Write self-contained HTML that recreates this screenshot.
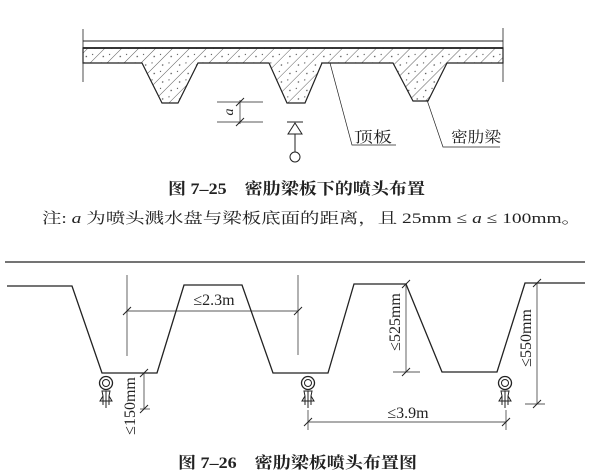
<!DOCTYPE html>
<html><head><meta charset="utf-8"><style>
html,body{margin:0;padding:0;background:#fff;}
svg{display:block;}
text{font-family:"Liberation Serif","Noto Serif CJK SC",serif;fill:#222;}
</style></head><body>
<svg width="603" height="471" viewBox="0 0 603 471" xmlns="http://www.w3.org/2000/svg">
<defs>
<pattern id="h" patternUnits="userSpaceOnUse" width="12" height="12" patternTransform="rotate(45)">
<rect width="12" height="12" fill="#fff"/>
<line x1="0" y1="0" x2="0" y2="12" stroke="#333" stroke-width="0.8"/>
<circle cx="5" cy="3" r="0.7" fill="#444"/>
<circle cx="8" cy="9" r="0.6" fill="#444"/>
</pattern>
</defs>
<g stroke="#222" fill="none" stroke-width="1">
<line x1="83" y1="29" x2="83" y2="82" stroke-width="0.8"/>
<line x1="503" y1="28" x2="503" y2="82" stroke-width="0.8"/>
<line x1="83" y1="41" x2="503" y2="41"/>
<polygon points="83,48 503,48 503,63 447,63 428,101 413,101 393,63 322,63 305,103 287,103 269,63 198,63 178,103 162,103 142,63 83,63" fill="url(#h)" stroke-width="1.2"/>
<line x1="83" y1="48" x2="503" y2="48" stroke-width="1.8"/>
<line x1="217" y1="102" x2="263" y2="102" stroke-width="0.7"/>
<line x1="217" y1="122" x2="263" y2="122" stroke-width="0.7"/>
<line x1="240" y1="100" x2="240" y2="124" stroke-width="0.7"/>
<line x1="236" y1="106" x2="244" y2="98"/>
<line x1="236" y1="126" x2="244" y2="118"/>
<line x1="287" y1="122" x2="303" y2="122"/>
<polygon points="295,123 288,134 302,134"/>
<line x1="295" y1="134" x2="295" y2="152"/>
<circle cx="295" cy="157" r="5"/>
<polyline points="330,63 352,145 396,145" stroke-width="0.7"/>
<polyline points="427,100 443,147 500,147" stroke-width="0.7"/>

<line x1="5" y1="262" x2="585" y2="262" stroke-width="1.3"/>
<polyline points="7,286 72,286 102,373 157,373 184,285 242,285 273,373 328,373 354,284 406,284 442,372 497,372 525,283 585,283" stroke-width="1.3"/>
<line x1="127" y1="275" x2="127" y2="356" stroke-width="0.7"/>
<line x1="298" y1="275" x2="298" y2="355" stroke-width="0.7"/>
<line x1="127" y1="311" x2="298" y2="311" stroke-width="0.7"/>
<line x1="123" y1="315" x2="131" y2="307"/>
<line x1="294" y1="315" x2="302" y2="307"/>
<line x1="406" y1="284" x2="406" y2="372" stroke-width="0.7"/>
<line x1="393" y1="372" x2="420" y2="372" stroke-width="0.7"/>
<line x1="402" y1="288" x2="410" y2="280"/>
<line x1="402" y1="376" x2="410" y2="368"/>
<line x1="537" y1="283" x2="537" y2="404" stroke-width="0.7"/>
<line x1="525" y1="404" x2="545" y2="404" stroke-width="0.7"/>
<line x1="533" y1="287" x2="541" y2="279"/>
<line x1="533" y1="408" x2="541" y2="400"/>
<line x1="144" y1="373" x2="144" y2="409" stroke-width="0.7"/>
<line x1="140" y1="409" x2="150" y2="409" stroke-width="0.7"/>
<line x1="140" y1="377" x2="148" y2="369"/>
<line x1="140" y1="413" x2="148" y2="405"/>
<line x1="308" y1="410" x2="308" y2="430" stroke-width="0.7"/>
<line x1="506" y1="410" x2="506" y2="430" stroke-width="0.7"/>
<line x1="308" y1="422" x2="506" y2="422" stroke-width="0.7"/>
<line x1="304" y1="426" x2="312" y2="418"/>
<line x1="502" y1="426" x2="510" y2="418"/>
</g>
<g stroke="#222" fill="none" stroke-width="1">
<g transform="translate(106,0)"><circle cx="0" cy="383" r="6.5" stroke-width="1.3"/><circle cx="0" cy="383" r="3.5"/><path d="M-4,391 h8 l-1,5 l3,5 h-12 l3,-5 z"/><line x1="0" y1="391" x2="0" y2="408"/><line x1="-3" y1="396" x2="-3" y2="405"/><line x1="3" y1="396" x2="3" y2="405"/></g>
<g transform="translate(308,0)"><circle cx="0" cy="383" r="6.5" stroke-width="1.3"/><circle cx="0" cy="383" r="3.5"/><path d="M-4,391 h8 l-1,5 l3,5 h-12 l3,-5 z"/><line x1="0" y1="391" x2="0" y2="408"/><line x1="-3" y1="396" x2="-3" y2="405"/><line x1="3" y1="396" x2="3" y2="405"/></g>
<g transform="translate(505,0)"><circle cx="0" cy="383" r="6.5" stroke-width="1.3"/><circle cx="0" cy="383" r="3.5"/><path d="M-4,391 h8 l-1,5 l3,5 h-12 l3,-5 z"/><line x1="0" y1="391" x2="0" y2="408"/><line x1="-3" y1="396" x2="-3" y2="405"/><line x1="3" y1="396" x2="3" y2="405"/></g>
</g>
<text font-size="14" font-style="italic" text-anchor="middle" transform="translate(233,112) rotate(-90)">a</text>
<text x="354" y="142" font-size="15" textLength="38" lengthAdjust="spacingAndGlyphs">顶板</text>
<text x="451" y="142" font-size="15" textLength="50" lengthAdjust="spacingAndGlyphs">密肋梁</text>
<text x="168" y="194" font-size="16" font-weight="bold" textLength="257" lengthAdjust="spacingAndGlyphs">图 7–25　密肋梁板下的喷头布置</text>
<text x="42" y="223" font-size="15" textLength="539" lengthAdjust="spacingAndGlyphs">注: <tspan font-style="italic">a</tspan> 为喷头溅水盘与梁板底面的距离，且 25mm ≤ <tspan font-style="italic">a</tspan> ≤ 100mm。</text>
<text x="214" y="305" font-size="16" text-anchor="middle">≤2.3m</text>
<text x="408" y="418" font-size="16" text-anchor="middle">≤3.9m</text>
<text font-size="16" text-anchor="middle" transform="translate(400,322) rotate(-90)">≤525mm</text>
<text font-size="16" text-anchor="middle" transform="translate(531,338) rotate(-90)">≤550mm</text>
<text font-size="16" text-anchor="middle" transform="translate(135,406) rotate(-90)">≤150mm</text>
<text x="178" y="468" font-size="16" font-weight="bold" textLength="239" lengthAdjust="spacingAndGlyphs">图 7–26　密肋梁板喷头布置图</text>
</svg>
</body></html>
